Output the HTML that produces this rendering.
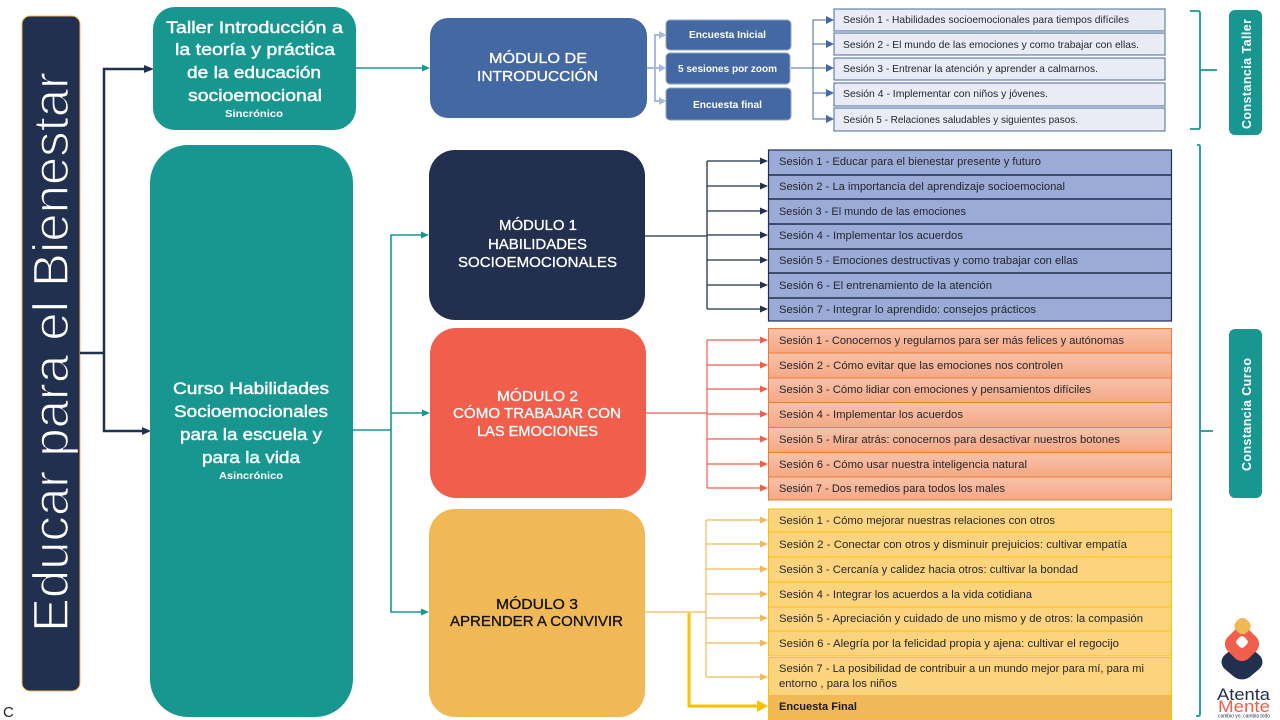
<!DOCTYPE html>
<html lang="es"><head><meta charset="utf-8"><title>Educar para el Bienestar</title>
<style>
html,body{margin:0;padding:0;background:#fff;width:1280px;height:720px;overflow:hidden}
svg{display:block}
text{font-family:"Liberation Sans",sans-serif}
.s{font-size:11px;fill:#26262b}
.t{font-size:10.5px;fill:#26262b}
.m{font-size:15px;text-anchor:start;stroke-width:.3}
.h{font-size:17px;fill:#fff;stroke:#fff;stroke-width:.45}
.b{font-size:10.5px;font-weight:bold;fill:#fff}
</style></head><body>
<svg width="1280" height="720" viewBox="0 0 1280 720" xmlns="http://www.w3.org/2000/svg">
<defs>
<linearGradient id="og" x1="0" y1="0" x2="0" y2="1"><stop offset="0" stop-color="#f8c2aa"/><stop offset="1" stop-color="#f4a885"/></linearGradient>
</defs>

<!-- main bar -->
<rect x="22" y="16" width="58" height="675" rx="8" fill="#22304f" stroke="#f0b955" stroke-width="1"/>
<text transform="translate(68,632) rotate(-90)" font-size="50" fill="#fff" stroke="#22304f" stroke-width="1.4" textLength="560" lengthAdjust="spacingAndGlyphs">Educar para el Bienestar</text>
<text x="3" y="717" font-size="15" fill="#222">C</text>

<!-- navy connectors -->
<g fill="none" stroke="#22304f" stroke-width="2.5"><path d="M80 353H104M144 69H104V431H143"/></g>
<polygon points="154,69 144,65 144,73" fill="#22304f"/><polygon points="151,431 142,427 142,435" fill="#22304f"/>

<!-- teal boxes -->
<rect x="153" y="7" width="203" height="123" rx="22" fill="#189791"/>
<rect x="150" y="145" width="203" height="572" rx="38" fill="#189791"/>
<text class="h" x="166" y="33" textLength="177" lengthAdjust="spacingAndGlyphs">Taller Introducción a</text>
<text class="h" x="175" y="55" textLength="160" lengthAdjust="spacingAndGlyphs">la teoría y práctica</text>
<text class="h" x="187" y="78" textLength="134" lengthAdjust="spacingAndGlyphs">de la educación</text>
<text class="h" x="188" y="101" textLength="134" lengthAdjust="spacingAndGlyphs">socioemocional</text>
<text class="b" x="225" y="117" textLength="58" lengthAdjust="spacingAndGlyphs">Sincrónico</text>
<text class="h" x="173" y="394" textLength="156" lengthAdjust="spacingAndGlyphs">Curso Habilidades</text>
<text class="h" x="174" y="417" textLength="154" lengthAdjust="spacingAndGlyphs">Socioemocionales</text>
<text class="h" x="180" y="440" textLength="142" lengthAdjust="spacingAndGlyphs">para la escuela y</text>
<text class="h" x="202" y="463" textLength="98" lengthAdjust="spacingAndGlyphs">para la vida</text>
<text class="b" x="219" y="479" textLength="64" lengthAdjust="spacingAndGlyphs">Asincrónico</text>

<!-- teal connectors -->
<g fill="none" stroke="#189791" stroke-width="1.6"><path d="M356 68H423M353 430H391M423 235H391V612H423M391 413H424"/></g>
<g fill="#189791"><polygon points="430,68 422,64.5 422,71.5"/><polygon points="429,235 421,231.5 421,238.5"/><polygon points="430,413 422,409.5 422,416.5"/><polygon points="429,612 421,608.5 421,615.5"/></g>

<!-- modules -->
<rect x="430" y="18" width="217" height="100" rx="18" fill="#4468a1"/>
<rect x="429" y="150" width="216" height="170" rx="26" fill="#222f4e"/>
<rect x="430" y="328" width="216" height="170" rx="26" fill="#f15e4b"/>
<rect x="429" y="509" width="216" height="208" rx="26" fill="#f0b955"/>
<g fill="#fff" stroke="#fff">
<text class="m" x="489" y="63" textLength="98" lengthAdjust="spacingAndGlyphs">MÓDULO DE</text>
<text class="m" x="477" y="81" textLength="121" lengthAdjust="spacingAndGlyphs">INTRODUCCIÓN</text>
<text class="m" x="499" y="230" textLength="78" lengthAdjust="spacingAndGlyphs">MÓDULO 1</text>
<text class="m" x="488" y="249" textLength="99" lengthAdjust="spacingAndGlyphs">HABILIDADES</text>
<text class="m" x="458" y="267" textLength="159" lengthAdjust="spacingAndGlyphs">SOCIOEMOCIONALES</text>
<text class="m" x="497" y="401" textLength="81" lengthAdjust="spacingAndGlyphs">MÓDULO 2</text>
<text class="m" x="453" y="418" textLength="168" lengthAdjust="spacingAndGlyphs">CÓMO TRABAJAR CON</text>
<text class="m" x="477" y="436" textLength="121" lengthAdjust="spacingAndGlyphs">LAS EMOCIONES</text>
</g>
<g fill="#111" stroke="#111">
<text class="m" x="496" y="609" textLength="82" lengthAdjust="spacingAndGlyphs">MÓDULO 3</text>
<text class="m" x="450" y="626" textLength="173" lengthAdjust="spacingAndGlyphs">APRENDER A CONVIVIR</text>
</g>

<!-- intro connectors -->
<g fill="none" stroke="#a9b8dc" stroke-width="2"><path d="M647 68H660M660 35H655V101H660"/></g>
<g fill="#a9b8dc"><polygon points="666,35 659,31 659,39"/><polygon points="666,68 659,64 659,72"/><polygon points="666,101 659,97 659,105"/></g>
<g fill="#4468a1" stroke="#8ea3c7" stroke-width="1">
<rect x="666" y="20" width="125" height="30" rx="4"/>
<rect x="666" y="53" width="124" height="31" rx="4"/>
<rect x="666" y="88" width="125" height="32" rx="4"/>
</g>
<text class="b" x="689" y="38" textLength="77" lengthAdjust="spacingAndGlyphs">Encuesta Inicial</text>
<text class="b" x="678" y="72" textLength="99" lengthAdjust="spacingAndGlyphs">5 sesiones por zoom</text>
<text class="b" x="693" y="108" textLength="69" lengthAdjust="spacingAndGlyphs">Encuesta final</text>

<!-- top sessions -->
<g fill="none" stroke="#4468a1" stroke-width="1"><path d="M791 68H827M827 20H813V119H827M813 44H827M813 93H827"/></g>
<g fill="#4468a1"><polygon points="834,20 826,16 826,24"/><polygon points="834,44 826,40 826,48"/><polygon points="834,68 826,64 826,72"/><polygon points="834,93 826,89 826,97"/><polygon points="834,119 826,115 826,123"/></g>
<g fill="#e9ecf5" stroke="#4468a1" stroke-width="1">
<rect x="834" y="9" width="331" height="22"/><rect x="834" y="33" width="331" height="22"/><rect x="834" y="58" width="331" height="22"/><rect x="834" y="83" width="331" height="23"/><rect x="834" y="108" width="331" height="23"/>
</g>
<text class="t" x="843" y="23" textLength="286" lengthAdjust="spacingAndGlyphs">Sesión 1 - Habilidades socioemocionales para tiempos difíciles</text>
<text class="t" x="843" y="48" textLength="296" lengthAdjust="spacingAndGlyphs">Sesión 2 - El mundo de las emociones y como trabajar con ellas.</text>
<text class="t" x="843" y="72" textLength="255" lengthAdjust="spacingAndGlyphs">Sesión 3 - Entrenar la atención y aprender a calmarnos.</text>
<text class="t" x="843" y="97" textLength="205" lengthAdjust="spacingAndGlyphs">Sesión 4 - Implementar con niños y jóvenes.</text>
<text class="t" x="843" y="123" textLength="235" lengthAdjust="spacingAndGlyphs">Sesión 5 - Relaciones saludables y siguientes pasos.</text>

<!-- module 1 sessions -->
<g fill="none" stroke="#22304f" stroke-width="1.3"><path d="M645 236H707M707 161V309M707 161H762M707 186H762M707 211H762M707 235H762M707 260H762M707 285H762M707 309H762"/></g>
<g fill="#22304f"><polygon points="768,161 760,157.5 760,164.5"/><polygon points="768,186 760,182.5 760,189.5"/><polygon points="768,211 760,207.5 760,214.5"/><polygon points="768,235 760,231.5 760,238.5"/><polygon points="768,260 760,256.5 760,263.5"/><polygon points="768,285 760,281.5 760,288.5"/><polygon points="768,309 760,305.5 760,312.5"/></g>
<rect x="768.500" y="150" width="403" height="171" fill="#9aabd7" stroke="#1f2f4f" stroke-width="1.200"/>
<path d="M768 175H1172M768 199H1172M768 224H1172M768 249H1172M768 273H1172M768 298H1172" stroke="#1f2f4f" stroke-width="1.500"/>
<text class="s" x="779" y="165" textLength="262" lengthAdjust="spacingAndGlyphs">Sesión 1 - Educar para el bienestar presente y futuro</text>
<text class="s" x="779" y="190" textLength="286" lengthAdjust="spacingAndGlyphs">Sesión 2 - La importancia del aprendizaje socioemocional</text>
<text class="s" x="779" y="215" textLength="187" lengthAdjust="spacingAndGlyphs">Sesión 3 - El mundo de las emociones</text>
<text class="s" x="779" y="239" textLength="184" lengthAdjust="spacingAndGlyphs">Sesión 4 - Implementar los acuerdos</text>
<text class="s" x="779" y="264" textLength="299" lengthAdjust="spacingAndGlyphs">Sesión 5 - Emociones destructivas y como trabajar con ellas</text>
<text class="s" x="779" y="289" textLength="213" lengthAdjust="spacingAndGlyphs">Sesión 6 - El entrenamiento de la atención</text>
<text class="s" x="779" y="313" textLength="257" lengthAdjust="spacingAndGlyphs">Sesión 7 - Integrar lo aprendido: consejos prácticos</text>

<!-- module 2 sessions -->
<g fill="none" stroke="#f15e4b" stroke-width="1.200"><path d="M646 413H707M707 340V488M707 340H762M707 365H762M707 389H762M707 414H762M707 439H762M707 464H762M707 488H762"/></g>
<g fill="#f15e4b"><polygon points="768,340 760,336.5 760,343.5"/><polygon points="768,365 760,361.5 760,368.5"/><polygon points="768,389 760,385.5 760,392.5"/><polygon points="768,414 760,410.5 760,417.5"/><polygon points="768,439 760,435.5 760,442.5"/><polygon points="768,464 760,460.5 760,467.5"/><polygon points="768,488 760,484.5 760,491.5"/></g>
<g fill="url(#og)" stroke="#ed7d31" stroke-width="1">
<rect x="768.500" y="328.500" width="403" height="24.500"/><rect x="768.500" y="353" width="403" height="25"/><rect x="768.500" y="378" width="403" height="24.500"/><rect x="768.500" y="402.500" width="403" height="25"/><rect x="768.500" y="427.500" width="403" height="25"/><rect x="768.500" y="452.500" width="403" height="24.500"/><rect x="768.500" y="477" width="403" height="23"/>
</g>
<text class="s" x="779" y="344" textLength="345" lengthAdjust="spacingAndGlyphs">Sesión 1 - Conocernos y regularnos para ser más felices y autónomas</text>
<text class="s" x="779" y="369" textLength="284" lengthAdjust="spacingAndGlyphs">Sesión 2 - Cómo evitar que las emociones nos controlen</text>
<text class="s" x="779" y="393" textLength="312" lengthAdjust="spacingAndGlyphs">Sesión 3 - Cómo lidiar con emociones y pensamientos difíciles</text>
<text class="s" x="779" y="418" textLength="184" lengthAdjust="spacingAndGlyphs">Sesión 4 - Implementar los acuerdos</text>
<text class="s" x="779" y="443" textLength="341" lengthAdjust="spacingAndGlyphs">Sesión 5 - Mirar atrás: conocernos para desactivar nuestros botones</text>
<text class="s" x="779" y="468" textLength="248" lengthAdjust="spacingAndGlyphs">Sesión 6 - Cómo usar nuestra inteligencia natural</text>
<text class="s" x="779" y="492" textLength="226" lengthAdjust="spacingAndGlyphs">Sesión 7 - Dos remedios para todos los males</text>

<!-- module 3 sessions -->
<g fill="none" stroke="#f0b955" stroke-width="1.200"><path d="M645 612H706M706 520V677M706 520H762M706 544H762M706 569H762M706 594H762M706 618H762M706 643H762M706 677H762"/></g>
<g fill="#f0b955"><polygon points="768,520 760,516.5 760,523.5"/><polygon points="768,544 760,540.5 760,547.5"/><polygon points="768,569 760,565.5 760,572.5"/><polygon points="768,594 760,590.5 760,597.5"/><polygon points="768,618 760,614.5 760,621.5"/><polygon points="768,643 760,639.5 760,646.5"/><polygon points="768,677 760,673.5 760,680.5"/></g>
<path d="M689 613V706H758" fill="none" stroke="#ffc000" stroke-width="3"/>
<polygon points="768,706 757,700 757,712" fill="#ffc000"/>
<g fill="#fdd47e" stroke="#ffc000" stroke-width="1">
<rect x="768.500" y="509" width="403" height="23"/><rect x="768.500" y="532" width="403" height="25"/><rect x="768.500" y="557" width="403" height="25"/><rect x="768.500" y="582" width="403" height="25"/><rect x="768.500" y="607" width="403" height="24"/><rect x="768.500" y="631" width="403" height="25"/><rect x="768.500" y="657.500" width="403" height="38"/>
</g>
<rect x="768.500" y="695.500" width="403" height="24" fill="#f0b955" stroke="#ffc000" stroke-width="1"/>
<text class="s" x="779" y="524" textLength="276" lengthAdjust="spacingAndGlyphs">Sesión 1 - Cómo mejorar nuestras relaciones con otros</text>
<text class="s" x="779" y="548" textLength="348" lengthAdjust="spacingAndGlyphs">Sesión 2 - Conectar con otros y disminuir prejuicios: cultivar empatía</text>
<text class="s" x="779" y="573" textLength="299" lengthAdjust="spacingAndGlyphs">Sesión 3 - Cercanía y calidez hacia otros: cultivar la bondad</text>
<text class="s" x="779" y="598" textLength="253" lengthAdjust="spacingAndGlyphs">Sesión 4 - Integrar los acuerdos a la vida cotidiana</text>
<text class="s" x="779" y="622" textLength="364" lengthAdjust="spacingAndGlyphs">Sesión 5 - Apreciación y cuidado de uno mismo y de otros: la compasión</text>
<text class="s" x="779" y="647" textLength="340" lengthAdjust="spacingAndGlyphs">Sesión 6 - Alegría por la felicidad propia y ajena: cultivar el regocijo</text>
<text class="s" x="779" y="672" textLength="365" lengthAdjust="spacingAndGlyphs">Sesión 7 - La posibilidad de contribuir a un mundo mejor para mí, para mi</text>
<text class="s" x="779" y="687" textLength="118" lengthAdjust="spacingAndGlyphs">entorno , para los niños</text>
<text x="779" y="710" font-size="11" font-weight="bold" fill="#1a1a1a" textLength="78" lengthAdjust="spacingAndGlyphs">Encuesta Final</text>

<!-- brackets -->
<g fill="none" stroke="#189791" stroke-width="1.800">
<path d="M1190 11H1198Q1200 11 1200 13V127Q1200 129 1198 129H1190M1200 70H1217"/>
<path d="M1197 145H1199Q1200 145 1200 147V714Q1200 716 1198 716H1196M1200 431H1213"/>
</g>
<rect x="1229" y="10" width="33" height="125" rx="6" fill="#189791"/>
<rect x="1229" y="329" width="33" height="169" rx="6" fill="#189791"/>
<text transform="translate(1251,129) rotate(-90)" font-size="12.5" font-weight="bold" fill="#fff" textLength="110" lengthAdjust="spacing">Constancia Taller</text>
<text transform="translate(1251,471) rotate(-90)" font-size="12.5" font-weight="bold" fill="#fff" textLength="113" lengthAdjust="spacing">Constancia Curso</text>

<!-- logo -->
<rect x="-18" y="-18" width="36" height="36" rx="12" transform="translate(1242 662) scale(1 .85) rotate(45)" fill="#22304f"/>
<rect x="-15" y="-15" width="30" height="30" rx="10" transform="translate(1242 644) rotate(45)" fill="#f15e4b"/>
<rect x="-7.5" y="-7.5" width="15" height="15" rx="6" transform="translate(1242.500 626) rotate(45)" fill="#f0b955"/>
<rect x="-5" y="-5" width="10" height="10" rx="3" transform="translate(1242 642) rotate(45)" fill="#fff"/>
<text x="1217" y="700" font-size="17" fill="#22304f" textLength="53" lengthAdjust="spacingAndGlyphs">Atenta</text>
<text x="1218" y="712" font-size="17" fill="#f15e4b" textLength="52" lengthAdjust="spacingAndGlyphs">Mente</text>
<text x="1218" y="717.500" font-size="5" fill="#22304f" textLength="52" lengthAdjust="spacingAndGlyphs">cambio yo, cambia todo</text>
</svg>
</body></html>
